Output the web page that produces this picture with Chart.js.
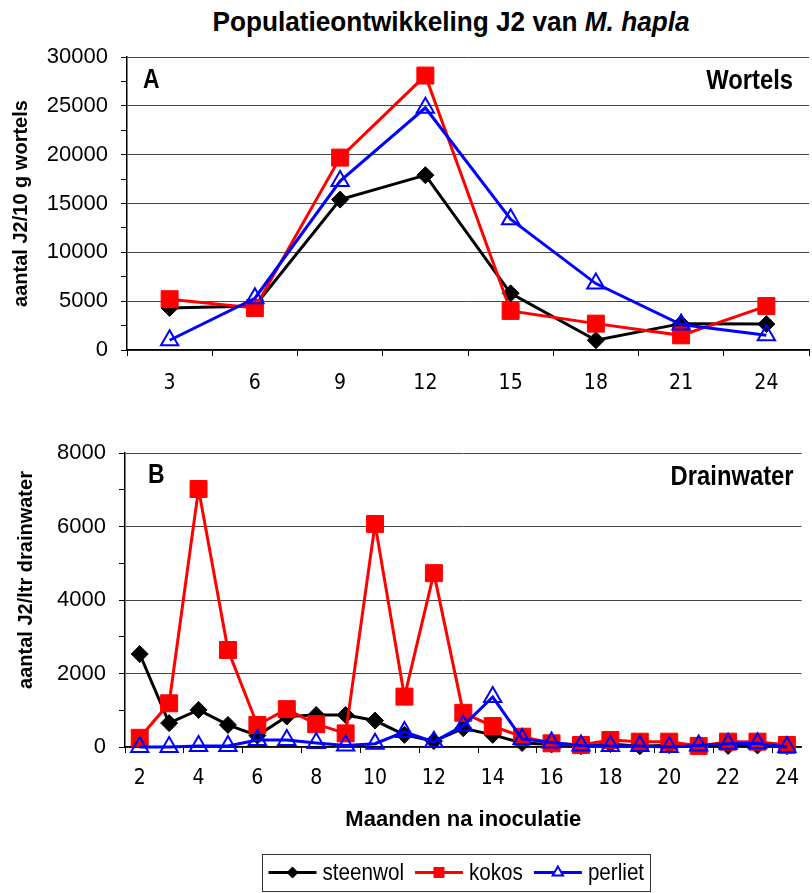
<!DOCTYPE html>
<html><head><meta charset="utf-8">
<script src="https://cdn.jsdelivr.net/npm/chart.js@4.4.1/dist/chart.umd.min.js"></script>
<style>
html,body{margin:0;padding:0;background:#fff;}
body{width:812px;height:893px;overflow:hidden;position:relative;}
#title{position:absolute;left:451px;top:6px;transform:translateX(-50%);transform-origin:50% 50%;white-space:nowrap;
 font-family:'Liberation Sans',Arial,sans-serif;font-weight:bold;font-size:28px;line-height:32px;color:#000;}
#c1{position:absolute;left:0;top:0;}
#c2{position:absolute;left:0;top:400px;}
</style></head>
<body>
<div id="title">Populatieontwikkeling J2 van <i>M. hapla</i></div>
<canvas id="c1" width="812" height="400"></canvas>
<canvas id="c2" width="812" height="493"></canvas>
<script>
// ---- Data ----
const seriesNames = ['steenwol', 'kokos', 'perliet'];
// Panel A: Wortels (aantal J2 / 10 g wortels)
const monthsA = ['3', '6', '9', '12', '15', '18', '21', '24'];
const steenwolA = [4300, 4500, 15400, 17900, 5800, 1000, 2700, 2650];
const kokosA    = [5200, 4300, 19700, 28100, 4000, 2700, 1500, 4500];
const perlietA  = [1000, 5300, 17300, 24800, 13400, 6800, 2600, 1500];
// Panel B: Drainwater (aantal J2 / ltr drainwater)
const monthsB = ['2','3','4','5','6','7','8','9','10','11','12','13','14','15','16','17','18','19','20','21','22','23','24'];
const steenwolB = [2530, 650, 1010, 600, 310, 830, 870, 870, 720, 330, 160, 510, 330, 110, 70, 20, 80, 20, 50, 60, 30, 40, 20];
const kokosB    = [250, 1190, 7020, 2640, 600, 1030, 620, 370, 6070, 1370, 4730, 930, 570, 280, 100, 55, 190, 145, 145, 30, 145, 145, 55];
const perlietB  = [0, 0, 30, 30, 190, 190, 110, 40, 90, 410, 140, 580, 1360, 220, 120, 40, 30, 30, 0, 40, 90, 100, 0];

const fontReg = "'Liberation Sans', Arial, sans-serif";
const fontNarrow = "'Liberation Sans Narrow', 'Arial Narrow', 'DejaVu Sans Condensed', sans-serif";

// fit title to the reference width
(function(){
  const t = document.getElementById('title');
  const w = t.getBoundingClientRect().width;
  t.style.transform = 'translateX(-50%) scaleX(' + (477 / w).toFixed(4) + ')';
})();

const styles = [
  {color:'#000000', pointStyle:'rectRot', radius:8.5, fill:'#000000', pbw:1, order:3},
  {color:'#ff0000', pointStyle:'rect', radius:12, fill:'#ff0000', pbw:1, order:2},
  {color:'#0000ff', pointStyle:'triangle', radius:10, fill:'rgba(0,0,0,0)', pbw:2, order:1}
];

function makeDatasets(arrs){
  return arrs.map((d,i)=>({
    label: seriesNames[i],
    data: d,
    borderColor: styles[i].color,
    backgroundColor: styles[i].fill,
    borderWidth: 3,
    pointStyle: styles[i].pointStyle,
    pointRadius: styles[i].radius,
    pointHoverRadius: styles[i].radius,
    pointBackgroundColor: styles[i].fill,
    pointBorderColor: styles[i].color,
    pointBorderWidth: styles[i].pbw,
    tension: 0,
    clip: false,
    order: styles[i].order
  }));
}

const textPlugin = {
  id:'texts',
  afterDraw(chart, args, opts){
    const ctx = chart.ctx, ca = chart.chartArea;
    (opts.items||[]).forEach(it=>{
      ctx.save();
      ctx.font = it.font;
      ctx.fillStyle = '#000';
      ctx.textAlign = it.align || 'left';
      ctx.textBaseline = 'middle';
      const x = it.rel ? (it.fromRight ? ca.right - it.x : ca.left + it.x) : it.x;
      const y = it.rel ? ca.top + it.y : it.y;
      ctx.translate(x, y);
      if (it.rot) ctx.rotate(it.rot);
      if (it.sx) ctx.scale(it.sx, 1);
      ctx.fillText(it.text, 0, 0);
      ctx.restore();
    });
  }
};

function drawMarker(ctx, st, x, y, s){
  ctx.save();
  ctx.fillStyle = st.fill; ctx.strokeStyle = st.color; ctx.lineWidth = st.pbw;
  ctx.beginPath();
  if (st.pointStyle === 'rectRot'){
    ctx.moveTo(x, y-s); ctx.lineTo(x+s, y); ctx.lineTo(x, y+s); ctx.lineTo(x-s, y); ctx.closePath();
    ctx.fill(); ctx.stroke();
  } else if (st.pointStyle === 'rect'){
    ctx.rect(x-s, y-s, 2*s, 2*s); ctx.fill();
  } else {
    ctx.moveTo(x, y-s); ctx.lineTo(x+s*0.866, y+s*0.5); ctx.lineTo(x-s*0.866, y+s*0.5); ctx.closePath();
    ctx.fillStyle = '#fff'; ctx.fill(); ctx.stroke();
  }
  ctx.restore();
}

const legendPlugin = {
  id:'boxLegend',
  afterDraw(chart, args, opts){
    const ctx = chart.ctx;
    const font = "24px " + fontReg;
    const sx = 0.86;
    ctx.save();
    ctx.font = font;
    const lineLen = 48, gapLT = 6, gapItem = 11, pad = 6;
    const ds = chart.data.datasets;
    let total = pad;
    const widths = ds.map(d=>ctx.measureText(d.label).width * sx);
    widths.forEach((w,i)=>{ total += lineLen + gapLT + w + (i<ds.length-1?gapItem:0); });
    total += pad;
    const cx = opts.cx, top = opts.top, h = opts.height;
    const left = Math.round(cx - total/2) + 0.5;
    ctx.strokeStyle = '#333'; ctx.lineWidth = 1;
    ctx.strokeRect(left, top + 0.5, Math.round(total), h);
    const cy = top + h/2;
    let x = left + pad;
    ds.forEach((d,i)=>{
      const st = styles[i];
      ctx.strokeStyle = st.color; ctx.lineWidth = 3;
      ctx.beginPath(); ctx.moveTo(x, cy); ctx.lineTo(x+lineLen, cy); ctx.stroke();
      drawMarker(ctx, st, x+lineLen/2, cy, i===2?6:5.5);
      x += lineLen + gapLT;
      ctx.save();
      ctx.fillStyle = '#000'; ctx.textAlign = 'left'; ctx.textBaseline = 'middle';
      ctx.font = font;
      ctx.translate(x, cy + 1); ctx.scale(sx, 1);
      ctx.fillText(d.label, 0, 0);
      ctx.restore();
      x += widths[i] + gapItem;
    });
    ctx.restore();
  }
};

// ---- Chart A ----
new Chart(document.getElementById('c1'), {
  type:'line',
  data:{ labels: monthsA, datasets: makeDatasets([steenwolA, kokosA, perlietA]) },
  plugins:[textPlugin],
  options:{
    responsive:false, animation:false, devicePixelRatio:1,
    layout:{ autoPadding:false, padding:{ top:57, left:0, right:3, bottom:0 } },
    plugins:{
      legend:{display:false}, tooltip:{enabled:false},
      texts:{ items:[
        {text:'A', font:"bold 27px "+fontReg, sx:0.85, rel:true, x:16, y:24},
        {text:'Wortels', font:"bold 28px "+fontReg, sx:0.85, rel:true, fromRight:true, x:16, y:24, align:'right'}
      ]}
    },
    scales:{
      x:{
        type:'category', offset:true,
        grid:{ offset:true, drawOnChartArea:false, drawTicks:true, tickLength:6, tickColor:'#000', tickWidth:1 },
        border:{ color:'#000', width:1.5 },
        ticks:{ color:'#000', font:{ family:fontNarrow, size:21 }, padding:15, maxRotation:0, autoSkip:false },
        afterFit(s){ s.height = 50; }
      },
      y:{
        min:0, max:30000,
        grid:{ color:(c)=> (c.tick && c.tick.value % 5000 === 0) ? '#444' : 'rgba(0,0,0,0)', lineWidth:1, tickColor:'#000', tickLength:6 },
        border:{ color:'#000', width:1.5 },
        ticks:{ stepSize:2500, autoSkip:false, maxTicksLimit:100, color:'#000', font:{ family:fontReg, size:22 }, padding:13,
          callback:(v)=> v % 5000 === 0 ? String(v) : '' },
        title:{ display:true, text:'aantal J2/10 g wortels', color:'#000', font:{ family:fontReg, size:20, weight:'bold' }, padding:{top:9, bottom:0} },
        afterFit(s){ s.width = 127; }
      }
    }
  }
});

// ---- Chart B ----
new Chart(document.getElementById('c2'), {
  type:'line',
  data:{ labels: monthsB, datasets: makeDatasets([steenwolB, kokosB, perlietB]) },
  plugins:[textPlugin, legendPlugin],
  options:{
    responsive:false, animation:false, devicePixelRatio:1,
    layout:{ autoPadding:false, padding:{ top:53, left:0, right:4, bottom:0 } },
    plugins:{
      legend:{display:false}, tooltip:{enabled:false},
      texts:{ items:[
        {text:'B', font:"bold 27px "+fontReg, sx:0.85, rel:true, x:23, y:23},
        {text:'Drainwater', font:"bold 28px "+fontReg, sx:0.85, rel:true, fromRight:true, x:8, y:24, align:'right'},
        {text:'aantal J2/ltr drainwater', font:"bold 20px "+fontReg, x:26, y:180, align:'center', rot:-Math.PI/2}
      ]},
      boxLegend:{ cx:456, top:454, height:37 }
    },
    scales:{
      x:{
        type:'category', offset:true,
        grid:{ offset:true, drawOnChartArea:false, drawTicks:true, tickLength:6,
          tickColor:(c)=> (c.index !== undefined && c.index % 2 === 0) ? '#000' : 'rgba(0,0,0,0)', tickWidth:1 },
        border:{ color:'#000', width:1.5 },
        ticks:{ color:'#000', font:{ family:fontNarrow, size:21 }, padding:13, maxRotation:0, autoSkip:false,
          callback:(v, i)=> i % 2 === 0 ? monthsB[i] : '' },
        title:{ display:true, text:'Maanden na inoculatie', color:'#000', font:{ family:fontReg, size:22, weight:'bold' }, padding:{top:0, bottom:60} },
        afterFit(s){ s.height = 146; }
      },
      y:{
        min:0, max:8000,
        grid:{ color:(c)=> (c.tick && c.tick.value % 2000 === 0) ? '#444' : 'rgba(0,0,0,0)', lineWidth:1, tickColor:'#000', tickLength:6 },
        border:{ color:'#000', width:1.5 },
        ticks:{ stepSize:1000, autoSkip:false, maxTicksLimit:100, color:'#000', font:{ family:fontReg, size:22 }, padding:13,
          callback:(v)=> v % 2000 === 0 ? String(v) : '' },
        afterFit(s){ s.width = 125; }
      }
    }
  }
});
</script>
</body></html>
